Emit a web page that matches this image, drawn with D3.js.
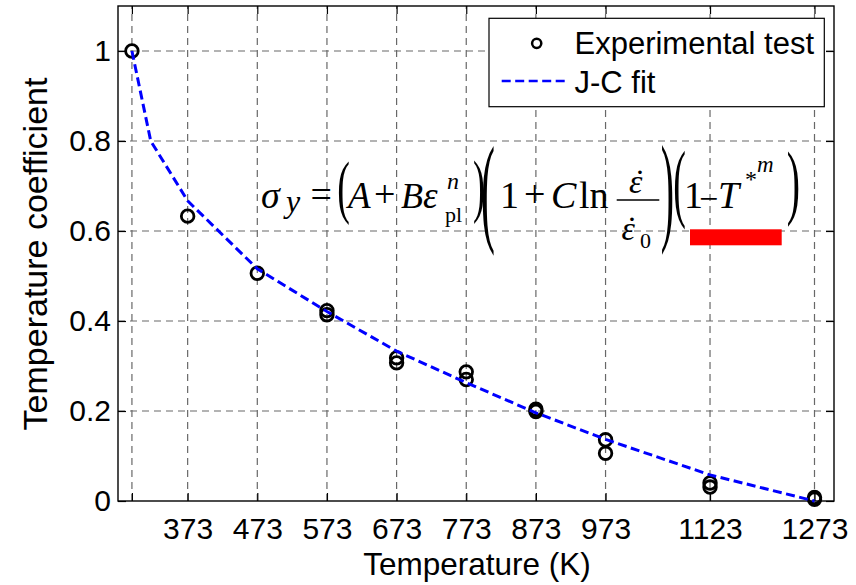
<!DOCTYPE html>
<html><head><meta charset="utf-8">
<script src="https://cdn.jsdelivr.net/npm/d3@7"></script>
<style>body{margin:0;background:#fff} svg{display:block}</style>
</head><body><svg id="c" width="856" height="585"></svg>
<script>
// ---- data ----
const tempTicks = [293, 373, 473, 573, 673, 773, 873, 973, 1123, 1273];
const tempTickLabels = ["", "373", "473", "573", "673", "773", "873", "973", "1123", "1273"];
const coefTicks = [0, 0.2, 0.4, 0.6, 0.8, 1];
const coefTickLabels = ["0", "0.2", "0.4", "0.6", "0.8", "1"];
const expTemps  = [293, 373, 473, 573, 573, 673, 673, 773, 773, 873, 873, 973, 973, 1123, 1123, 1273, 1273];
const expValues = [1.0, 0.633, 0.506, 0.423, 0.414, 0.318, 0.307, 0.287, 0.270, 0.204, 0.199, 0.136, 0.106, 0.040, 0.031, 0.008, 0.004];
const fitTemps  = [293, 320, 373, 473, 573, 673, 773, 873, 973, 1123, 1273];
const fitValues = [1.0, 0.80, 0.667, 0.516, 0.421, 0.333, 0.263, 0.196, 0.137, 0.058, 0.0];
const seriesNames = ["Experimental test", "J-C fit"];
const xTitle = "Temperature (K)";
const yTitle = "Temperature coefficient";

// ---- layout ----
const svg = d3.select("#c");
const L = 118, R = 834, T = 6, B = 501;
const x = d3.scaleLinear().domain([273, 1301]).range([L, R]);
const y = d3.scaleLinear().domain([0, 1.1]).range([B, T]);
const sans = "'Liberation Sans', Arial, Helvetica, sans-serif";
const serif = "'Liberation Serif', 'Times New Roman', serif";
const FS = 30;

// grid
const grid = svg.append("g").attr("stroke", "#686868").attr("stroke-width", 1.2)
  .attr("stroke-dasharray", "7,5").attr("fill", "none");
grid.selectAll("line.vx").data(tempTicks).join("line")
  .attr("x1", d => x(d)).attr("x2", d => x(d)).attr("y1", B).attr("y2", T);
grid.selectAll("line.hy").data(coefTicks.filter(d => d > 0)).join("line")
  .attr("y1", d => y(d)).attr("y2", d => y(d)).attr("x1", L).attr("x2", R);

// axes (inward ticks on all sides)
function styleAxis(g) {
  g.select(".domain").remove();
  g.selectAll(".tick line").attr("stroke", "#000").attr("stroke-width", 1.2);
  g.selectAll("text").attr("font-family", sans).attr("font-size", FS).attr("fill", "#000");
}
svg.append("g").attr("transform", `translate(0,${B})`)
  .call(d3.axisBottom(x).tickValues(tempTicks).tickSize(-8).tickPadding(16.5)
    .tickFormat((d, i) => tempTickLabels[i]))
  .call(styleAxis);
svg.append("g").attr("transform", `translate(0,${T})`)
  .call(d3.axisTop(x).tickValues(tempTicks).tickSize(-8).tickFormat(""))
  .call(styleAxis);
svg.append("g").attr("transform", `translate(${L},0)`)
  .call(d3.axisLeft(y).tickValues(coefTicks).tickSize(-8).tickPadding(7)
    .tickFormat((d, i) => coefTickLabels[i]))
  .call(styleAxis);
svg.append("g").attr("transform", `translate(${R},0)`)
  .call(d3.axisRight(y).tickValues(coefTicks).tickSize(-8).tickFormat(""))
  .call(styleAxis);

// box
svg.append("rect").attr("x", L).attr("y", T).attr("width", R - L).attr("height", B - T)
  .attr("fill", "none").attr("stroke", "#000").attr("stroke-width", 1.4);

// axis titles
svg.append("text").attr("x", 477).attr("y", 575).attr("text-anchor", "middle")
  .attr("font-family", sans).attr("font-size", 31.5).text(xTitle);
svg.append("text").attr("transform", `translate(47,254) rotate(-90)`)
  .attr("text-anchor", "middle").attr("font-family", sans).attr("font-size", 34).text(yTitle);

// formula annotation
const eqG = svg.append("g").attr("font-family", serif).attr("fill", "#000");
const pieces = [
  {t: "σ", x: 261, y: 208, fs: 38, it: 1},
  {t: "y", x: 286, y: 212, fs: 32, it: 1},
  {t: "=", x: 310.5, y: 207, fs: 38},
  {t: "A", x: 348, y: 208, fs: 37, it: 1},
  {t: "+", x: 374, y: 207, fs: 38},
  {t: "B", x: 401, y: 208, fs: 36, it: 1},
  {t: "ε", x: 423, y: 208, fs: 37, it: 1},
  {t: "n", x: 447, y: 189, fs: 24, it: 1},
  {t: "pl", x: 445, y: 221.7, fs: 22},
  {t: "1", x: 500, y: 208, fs: 38},
  {t: "+", x: 524, y: 207, fs: 38},
  {t: "C", x: 551, y: 208, fs: 38, it: 1},
  {t: "ln", x: 579, y: 208, fs: 38},
  {t: "ε", x: 629, y: 193, fs: 34, it: 1},
  {t: "˙", x: 640, y: 193, fs: 34, mid: 1},
  {t: "ε", x: 621.5, y: 240, fs: 34, it: 1},
  {t: "˙", x: 632, y: 240, fs: 34, mid: 1},
  {t: "0", x: 640, y: 248, fs: 22},
  {t: "1", x: 684, y: 208, fs: 38},
  {t: "−", x: 699, y: 210, fs: 34},
  {t: "T", x: 718, y: 208, fs: 38, it: 1},
  {t: "*", x: 745, y: 187, fs: 24},
  {t: "m", x: 757, y: 171.7, fs: 23, it: 1}
];
eqG.selectAll("text.p").data(pieces).join("text")
  .attr("x", d => d.x).attr("y", d => d.y).attr("font-size", d => d.fs)
  .attr("font-style", d => d.it ? "italic" : "normal")
  .attr("text-anchor", d => d.mid ? "middle" : "start").text(d => d.t);
eqG.append("line").attr("x1", 616.7).attr("x2", 659.3).attr("y1", 200).attr("y2", 200)
  .attr("stroke", "#000").attr("stroke-width", 1.6);
const parens = [
  {t: "(", left: 339, top: 163, bot: 222, sx: 1.0},
  {t: ")", left: 474, top: 162.7, bot: 221.7, sx: 0.95},
  {t: "(", left: 483, top: 148, bot: 251.7, sx: 1.1},
  {t: ")", left: 662, top: 146.7, bot: 250, sx: 1.05},
  {t: "(", left: 675, top: 153, bot: 226.7, sx: 1.0},
  {t: ")", left: 788, top: 153, bot: 223.3, sx: 1.05}
];
const pfs = 38;
parens.forEach(p => {
  const sy = (p.bot - p.top) / (0.853 * pfs);
  const xMin = (p.t === "(" ? 0.048 : 0.029) * pfs;
  const x0 = p.left - p.sx * xMin;
  const y0 = p.top + sy * 0.676 * pfs;
  eqG.append("text").attr("transform", `translate(${x0},${y0}) scale(${p.sx},${sy})`)
    .attr("font-size", pfs).text(p.t);
});
svg.append("rect").attr("x", 690).attr("y", 229.3).attr("width", 91.7).attr("height", 16)
  .attr("fill", "#ff0000");

// experimental points
svg.append("g").selectAll("circle").data(expTemps.map((t, i) => [t, expValues[i]])).join("circle")
  .attr("cx", d => x(d[0])).attr("cy", d => y(d[1])).attr("r", 6.3)
  .attr("fill", "none").attr("stroke", "#000").attr("stroke-width", 2.8);

// fit line
const line = d3.line().x(d => x(d[0])).y(d => y(d[1]));
svg.append("path").datum(fitTemps.map((t, i) => [t, fitValues[i]]))
  .attr("d", line).attr("fill", "none").attr("stroke", "#0000ff").attr("stroke-width", 3)
  .attr("stroke-dasharray", "9,4.5");

// legend
const lg = svg.append("g");
lg.append("rect").attr("x", 489).attr("y", 18.3).attr("width", 335.3).attr("height", 88.4)
  .attr("fill", "#fff").attr("stroke", "#000").attr("stroke-width", 1.2);
lg.append("circle").attr("cx", 536.7).attr("cy", 43.3).attr("r", 4.6)
  .attr("fill", "none").attr("stroke", "#000").attr("stroke-width", 2.5);
lg.append("line").attr("x1", 501.7).attr("x2", 565).attr("y1", 81).attr("y2", 81)
  .attr("stroke", "#0000ff").attr("stroke-width", 2.5).attr("stroke-dasharray", "9,4.5");
lg.selectAll("text").data(seriesNames).join("text")
  .attr("x", 574.5).attr("y", (d, i) => i === 0 ? 54 : 93.3)
  .attr("font-family", sans).attr("font-size", 31).text(d => d);
</script></body></html>
